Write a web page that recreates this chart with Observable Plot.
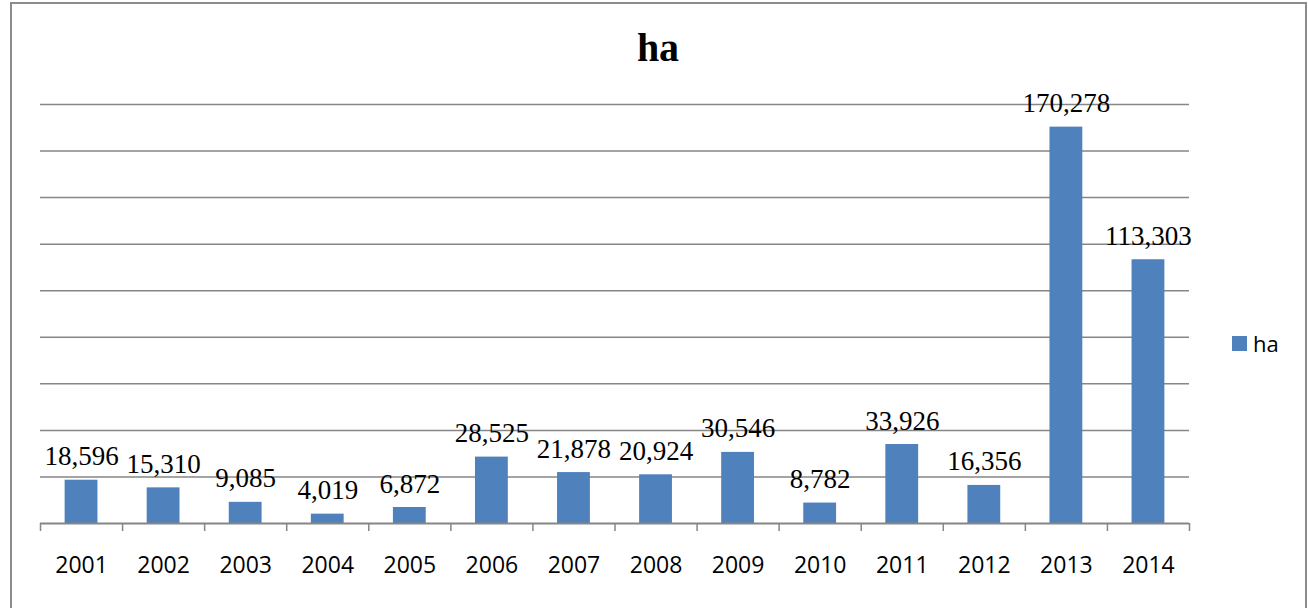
<!DOCTYPE html>
<html>
<head>
<meta charset="utf-8">
<script src="https://cdn.jsdelivr.net/npm/d3@7"></script>
<script src="https://cdn.jsdelivr.net/npm/@observablehq/plot@0.6"></script>
<style>
  html, body { margin: 0; padding: 0; background: #fff; width: 1308px; height: 608px; overflow: hidden; }
  #wrap { position: relative; width: 1308px; height: 608px; }
  #frame { position: absolute; left: 10px; top: 2px; width: 1293px; height: 640px;
           border: 2px solid #8c8c8c; border-bottom: none; box-sizing: content-box; }
  #title { position: absolute; left: 11px; width: 1294px; top: 24px; text-align: center;
           font-family: "Liberation Serif", "Times New Roman", serif; font-weight: bold; font-size: 40px; line-height: 48px; color: #000; }
  #legend { position: absolute; left: 1232px; top: 328px; font-family: "Open Sans", sans-serif; font-size: 22px; line-height: 30px; color: #000; display: flex; align-items: center; }
  #legend .sw { width: 15px; height: 15px; background: #4F81BD; margin-right: 6px; }
  #chart { position: absolute; left: 0; top: 0; }
</style>
</head>
<body>
<div id="wrap">
  <div id="frame"></div>
  <div id="chart"></div>
  <div id="title">ha</div>
  <div id="legend"><span class="sw"></span><span>ha</span></div>
</div>
<script>
const years = ["2001","2002","2003","2004","2005","2006","2007","2008","2009","2010","2011","2012","2013","2014"];
const values = [18596, 15310, 9085, 4019, 6872, 28525, 21878, 20924, 30546, 8782, 33926, 16356, 170278, 113303];
const yTicks = [0, 20000, 40000, 60000, 80000, 100000, 120000, 140000, 160000, 180000];
const seriesName = "ha";

const data = years.map((y, i) => ({year: y, value: values[i], i}));
const boundaries = d3.range(years.length + 1);
const centers = years.map((_, i) => i + 0.5);
const barHalf = 0.2;

const chart = Plot.plot({
  width: 1308,
  height: 608,
  marginLeft: 40,
  marginRight: 119,
  marginTop: 104,
  marginBottom: 85,
  style: {background: "transparent", overflow: "visible"},
  x: {type: "linear", domain: [0, years.length], axis: null},
  y: {domain: [0, 180000], axis: null},
  marks: [
    Plot.ruleY(yTicks.filter(d => d > 0), {stroke: "#868686", strokeWidth: 1.5}),
    Plot.rectY(data, {x1: d => d.i + 0.5 - barHalf, x2: d => d.i + 0.5 + barHalf, y1: 0, y2: "value", fill: "#4F81BD"}),
    Plot.ruleY([0], {stroke: "#868686", strokeWidth: 2}),
    Plot.axisX({ticks: boundaries, tickSize: 8, tickFormat: () => "", stroke: "#868686", strokeWidth: 1.5}),
    Plot.axisX({ticks: centers, tickSize: 0, tickPadding: 33, tickFormat: d => years[Math.round(d - 0.5)],
      fontFamily: "Open Sans, sans-serif", fontSize: 23, fill: "#000"}),
    Plot.text(data, {x: d => d.i + 0.5, y: "value", text: d => d3.format(",")(d.value),
      lineAnchor: "bottom", dy: -15, fontFamily: "Liberation Serif, Times New Roman, serif", fontSize: 27, fill: "#000"})
  ]
});
document.getElementById("chart").appendChild(chart);
</script>
</body>
</html>
